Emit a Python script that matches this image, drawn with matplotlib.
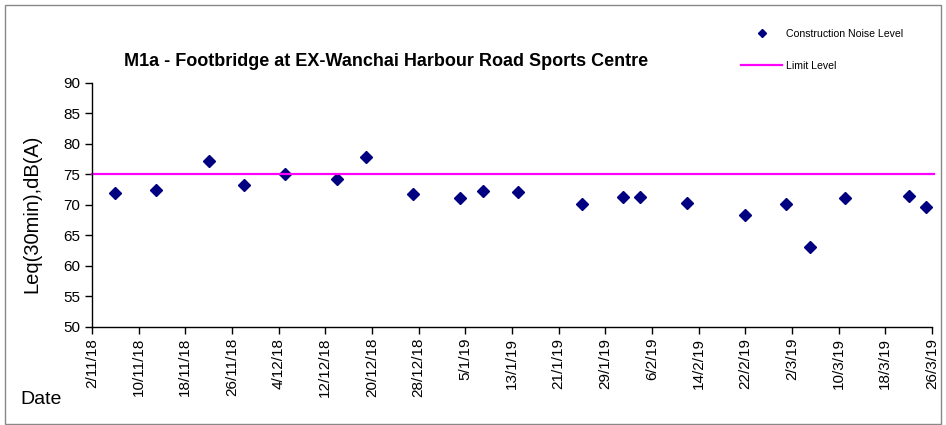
import matplotlib
matplotlib.use('Agg')
import matplotlib.pyplot as plt
import pandas as pd
from matplotlib.patches import Rectangle
from matplotlib.lines import Line2D

# -------------------------------------------------------------------------
# Data
# -------------------------------------------------------------------------
sample_dates = ['2018-11-06', '2018-11-13', '2018-11-22', '2018-11-28', '2018-12-05',
                '2018-12-14', '2018-12-19', '2018-12-27', '2019-01-04', '2019-01-08',
                '2019-01-14', '2019-01-25', '2019-02-01', '2019-02-04', '2019-02-12',
                '2019-02-22', '2019-03-01', '2019-03-05', '2019-03-11', '2019-03-22',
                '2019-03-25']
noise_level = [72.0, 72.4, 77.2, 73.3, 75.0, 74.2, 77.9, 71.8, 71.1, 72.2,
               72.1, 70.1, 71.3, 71.3, 70.3, 68.3, 70.1, 63.0, 71.1, 71.5, 69.6]
limit_level = 75

x_start = pd.Timestamp('2018-11-02')
x_end = pd.Timestamp('2019-03-26')
tick_dates = pd.date_range(x_start, x_end, freq='8D')
tick_labels = [f"{d.day}/{d.month}/{d.strftime('%y')}" for d in tick_dates]

# -------------------------------------------------------------------------
# Plot
# -------------------------------------------------------------------------
plt.rcParams['font.family'] = ['Liberation Sans', 'DejaVu Sans']

W, H = 946, 425
fig = plt.figure(figsize=(W / 100, H / 100), dpi=100)

# outer chart border
fig.patches.append(Rectangle((5 / W, 1 / H), 1 - 10 / W, 1 - 6 / H, transform=fig.transFigure,
                             fill=False, edgecolor='#888888', linewidth=1))

ax = fig.add_axes([92 / W, 1 - 326.7 / H, (932 - 92) / W, (326.7 - 82.7) / H])

dates = pd.to_datetime(sample_dates)
ax.plot(dates, noise_level, linestyle='none', marker='D', markersize=6,
        color='#000080', label='Construction Noise Level')
ax.plot([x_start, x_end + pd.Timedelta(days=0.4)], [limit_level, limit_level],
        color='#FF00FF', linewidth=1.6, clip_on=False, label='Limit Level')

ax.set_xlim(x_start, x_end)
ax.set_ylim(50, 90)
ax.set_yticks(range(50, 91, 5))
ax.set_xticks(tick_dates)
ax.set_xticklabels(tick_labels, rotation=90, fontsize=11)
ax.tick_params(axis='y', labelsize=11, direction='out', length=5, width=1)
ax.tick_params(axis='x', direction='out', length=5, width=1, pad=3)

for side in ['top', 'right']:
    ax.spines[side].set_visible(False)
for side in ['left', 'bottom']:
    ax.spines[side].set_linewidth(1)

ax.set_ylabel('Leq(30min),dB(A)', fontsize=14.5, va='center')
ax.yaxis.set_label_coords(-0.0714, 0.462)
fig.text(20 / W, 1 - 400 / H, 'Date', fontsize=14, va='center', ha='left')

fig.text(386 / W, 1 - 62 / H, 'M1a - Footbridge at EX-Wanchai Harbour Road Sports Centre',
         fontsize=13, fontweight='bold', ha='center', va='center')

handles = [Line2D([], [], linestyle='none', marker='D', markersize=4, color='#000080'),
           Line2D([], [], color='#FF00FF', linewidth=1.6)]
fig.legend(handles, ['Construction Noise Level', 'Limit Level'], loc='upper left',
           bbox_to_anchor=(741 / W, 1 - 29 / H), frameon=False, fontsize=7.6,
           handlelength=3.9, handletextpad=0.35, labelspacing=2.1, borderpad=0,
           borderaxespad=0)

fig.savefig('out.png', dpi=100)
